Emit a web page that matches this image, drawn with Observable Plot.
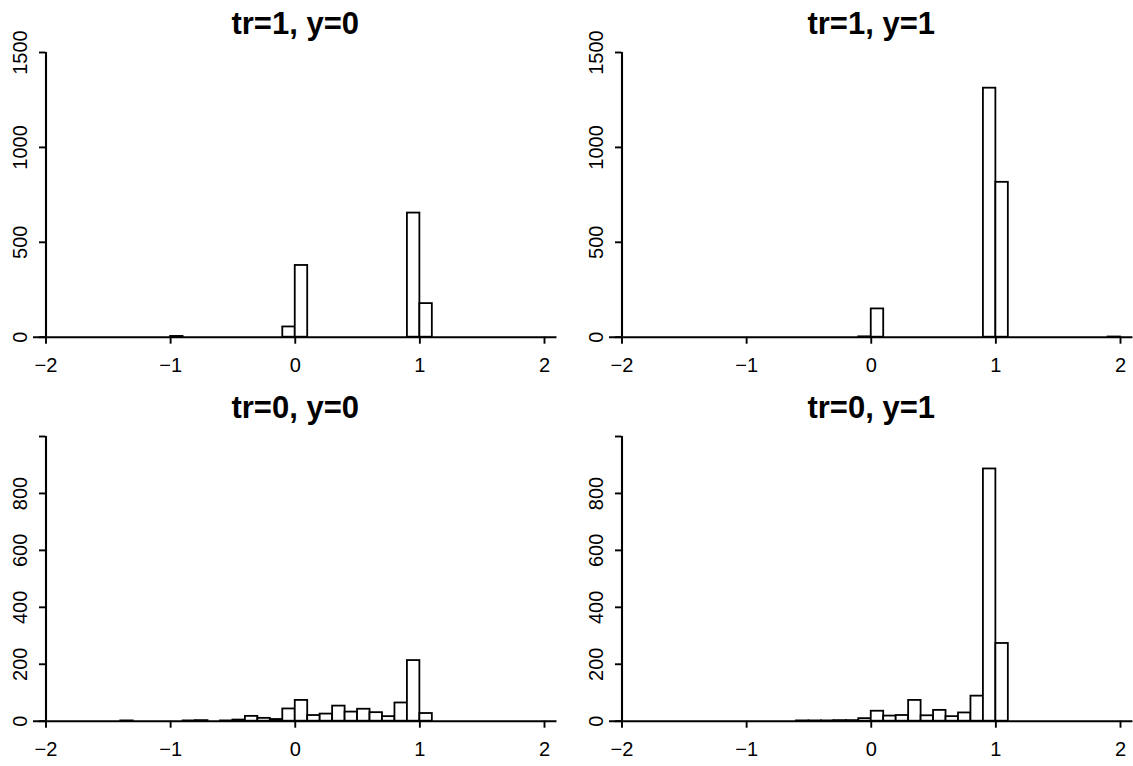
<!DOCTYPE html>
<html><head><meta charset="utf-8">
<script src="https://cdn.jsdelivr.net/npm/d3@7"></script>
<script src="https://cdn.jsdelivr.net/npm/@observablehq/plot@0.6"></script>
<style>
body{margin:0;background:#fff;}
#wrap{position:relative;width:1133px;height:766px;overflow:hidden;background:#fff;}
.panel{position:absolute;width:566px;height:383px;}
.panel svg{max-width:none !important;}
</style></head><body><div id="wrap"></div>
<script>
// ---- data (histogram bins of width 0.1, breaks from -2.1 to 2.1) ----
const binWidth = 0.1;
const breakRange = [-2.1, 2.1];
const xTicks = [-2, -1, 0, 1, 2];

const titles = ["tr=1, y=0", "tr=1, y=1", "tr=0, y=0", "tr=0, y=1"];

// tr=1, y=0
const tr1y0Bins   = [-1.0, -0.1, 0.0, 0.9, 1.0];
const tr1y0Counts = [4, 54, 378, 654, 177];

// tr=1, y=1
const tr1y1Bins   = [-0.1, 0.0, 0.9, 1.0, 1.9];
const tr1y1Counts = [2, 149, 1312, 816, 1];

// tr=0, y=0
const tr0y0Bins   = [-1.4, -0.9, -0.8, -0.6, -0.5, -0.4, -0.3, -0.2, -0.1, 0.0, 0.1, 0.2, 0.3, 0.4, 0.5, 0.6, 0.7, 0.8, 0.9, 1.0];
const tr0y0Counts = [1, 1, 2, 1, 4, 17, 10, 6, 43, 73, 20, 25, 53, 32, 42, 30, 16, 64, 213, 27];

// tr=0, y=1
const tr0y1Bins   = [-0.6, -0.5, -0.4, -0.3, -0.2, -0.1, 0.0, 0.1, 0.2, 0.3, 0.4, 0.5, 0.6, 0.7, 0.8, 0.9, 1.0];
const tr0y1Counts = [1, 1, 1, 2, 2, 9, 35, 18, 20, 73, 19, 38, 16, 29, 88, 886, 273];

const topYMax = 1500;
const topYTicks = [0, 500, 1000, 1500];
const topYLabels = [0, 500, 1000, 1500];
const botYMax = 1000;
const botYTicks = [0, 200, 400, 600, 800, 1000];
const botYLabels = [0, 200, 400, 600, 800];

const fmt = d => d < 0 ? "\u2212" + (-d) : String(d);
const FONT = "'Liberation Sans', Arial, Helvetica, sans-serif";

function panel(title, bins, counts, yMax, yTicks, yLabels) {
  const data = bins.map((b, i) => ({x1: b, x2: +(b + binWidth).toFixed(2), y: counts[i]}));
  return Plot.plot({
    width: 566, height: 383,
    marginLeft: 45.5, marginRight: 22, marginTop: 52, marginBottom: 46.3,
    x: {domain: [-2, 2], axis: null},
    y: {domain: [0, yMax], axis: null},
    style: {fontFamily: FONT, fontSize: "20px", background: "transparent", color: "black", overflow: "visible"},
    marks: [
      Plot.rectY(data, {x1: "x1", x2: "x2", y: "y", fill: "white", stroke: "black", strokeWidth: 1.8, inset: 0}),
      Plot.ruleY([0], {x1: () => breakRange[0], x2: () => breakRange[1], stroke: "black", strokeWidth: 2.1}),
      Plot.ruleX([-2], {y1: () => 0, y2: () => yMax, stroke: "black", strokeWidth: 2.1}),
      Plot.axisX({ticks: xTicks, tickSize: 7, tickPadding: 14, tickFormat: fmt, label: null, strokeWidth: 1.9, fontSize: 20}),
      Plot.axisY({ticks: yTicks, tickSize: 6.5, tickFormat: () => "", label: null, strokeWidth: 1.9}),
      Plot.text(yLabels, {y: d => d, text: d => String(d), frameAnchor: "left", textAnchor: "middle", lineAnchor: "middle", rotate: -90, dx: -25, fontSize: 20, fill: "black"}),
      Plot.text([title], {text: d => d, frameAnchor: "top", textAnchor: "middle", lineAnchor: "middle", dy: -28.9, fontSize: 31, fontWeight: "bold", fill: "black"})
    ]
  });
}

const wrap = document.getElementById("wrap");
const specs = [
  [titles[0], tr1y0Bins, tr1y0Counts, topYMax, topYTicks, topYLabels, 0, 0],
  [titles[1], tr1y1Bins, tr1y1Counts, topYMax, topYTicks, topYLabels, 576, 0],
  [titles[2], tr0y0Bins, tr0y0Counts, botYMax, botYTicks, botYLabels, 0, 384],
  [titles[3], tr0y1Bins, tr0y1Counts, botYMax, botYTicks, botYLabels, 576, 384]
];
for (const s of specs) {
  const div = document.createElement("div");
  div.className = "panel";
  div.style.left = s[6] + "px";
  div.style.top = s[7] + "px";
  div.appendChild(panel(s[0], s[1], s[2], s[3], s[4], s[5]));
  wrap.appendChild(div);
}
</script>
</body></html>
